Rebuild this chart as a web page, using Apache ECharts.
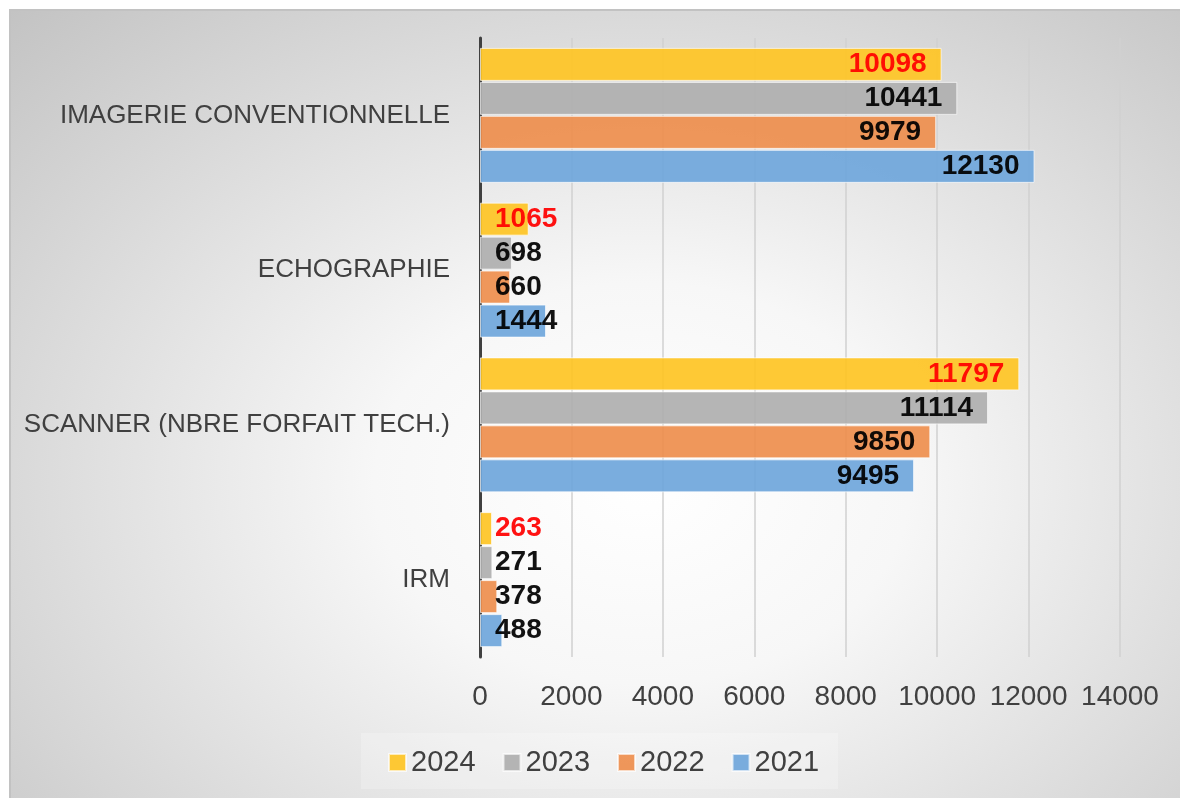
<!DOCTYPE html>
<html>
<head>
    <meta charset="utf-8">
    <title>Activité imagerie</title>
    <script src="https://cdn.jsdelivr.net/npm/echarts@6/dist/echarts.min.js"></script>
    <style>
        html, body { margin: 0; padding: 0; background: #ffffff; }
        /* fond dégradé derrière le graphique */
        #bg {
            position: absolute; left: 9px; top: 9px; width: 1171px; height: 789px;
            border-top: 2px solid #c2c2c2; border-left: 2px solid #c2c2c2;
            box-sizing: border-box;
            background: radial-gradient(ellipse farthest-corner at 54% 60%, #ffffff 0%, #f7f7f7 30%, #c3c3c3 100%);
        }
        #main { position: absolute; left: 0; top: 0; width: 1180px; height: 798px; }
    </style>
</head>
<body>
<div id="bg"></div>
<div id="main"></div>
<script>
    // données
    var categories = ['IMAGERIE CONVENTIONNELLE', 'ECHOGRAPHIE', 'SCANNER (NBRE FORFAIT TECH.)', 'IRM'];
    var years = ['2024', '2023', '2022', '2021'];
    var data2024 = [10098, 1065, 11797, 263];
    var data2023 = [10441, 698, 11114, 271];
    var data2022 = [9979, 660, 9850, 378];
    var data2021 = [12130, 1444, 9495, 488];
    var xTicks = [0, 2000, 4000, 6000, 8000, 10000, 12000, 14000];

    var colors = {'2024': '#fec526', '2023': '#afafaf', '2022': '#ee8f4f', '2021': '#70a7db'};
    var labelColors = {'2024': '#ff0000', '2023': '#000000', '2022': '#000000', '2021': '#000000'};
    var seriesData = {'2024': data2024, '2023': data2023, '2022': data2022, '2021': data2021};

    function makeSeries(year) {
        return {
            name: year,
            type: 'bar',
            barWidth: 33,
            barGap: '3%',
            itemStyle: {
                color: colors[year],
                opacity: 0.93,
                borderColor: 'rgba(255,255,255,0.7)',
                borderWidth: 1
            },
            data: seriesData[year].map(function (v) {
                // petites barres : étiquette au pied, sinon au bout
                var small = v < 2000;
                return {
                    value: v,
                    label: {
                        position: small ? 'insideLeft' : 'insideRight',
                        distance: small ? 15 : 15
                    }
                };
            }),
            label: {
                show: true,
                color: labelColors[year],
                fontFamily: 'Liberation Sans',
                fontWeight: 'bold',
                fontSize: 28
            }
        };
    }

    var myChart = echarts.init(document.getElementById('main'));
    myChart.setOption({
        backgroundColor: 'transparent',
        animation: false,
        grid: {left: 480, right: 60, top: 38, bottom: 141, containLabel: false},
        legend: {
            data: years,
            left: 361,
            top: 733,
            padding: [15, 19, 12, 27],
            backgroundColor: 'rgba(255,255,255,0.22)',
            itemWidth: 17,
            itemHeight: 17,
            itemGap: 27,
            icon: 'rect',
            textStyle: {fontFamily: 'Liberation Sans', fontSize: 29, color: '#404040'}
        },
        xAxis: {
            type: 'value',
            min: xTicks[0],
            max: xTicks[xTicks.length - 1],
            interval: 2000,
            axisLine: {show: false},
            axisTick: {show: false},
            splitLine: {lineStyle: {color: '#d0d0d0', width: 1.5}},
            axisLabel: {
                fontFamily: 'Liberation Sans', fontSize: 28, color: '#404040', margin: 26,
                formatter: function (v) { return String(v); }
            }
        },
        yAxis: {
            type: 'category',
            inverse: true,
            data: categories,
            axisLine: {lineStyle: {color: '#404040', width: 3}},
            axisTick: {show: false},
            axisLabel: {fontFamily: 'Liberation Sans', fontSize: 26, color: '#404040', margin: 30}
        },
        series: [makeSeries('2024'), makeSeries('2023'), makeSeries('2022'), makeSeries('2021')]
    });
</script>
</body>
</html>
